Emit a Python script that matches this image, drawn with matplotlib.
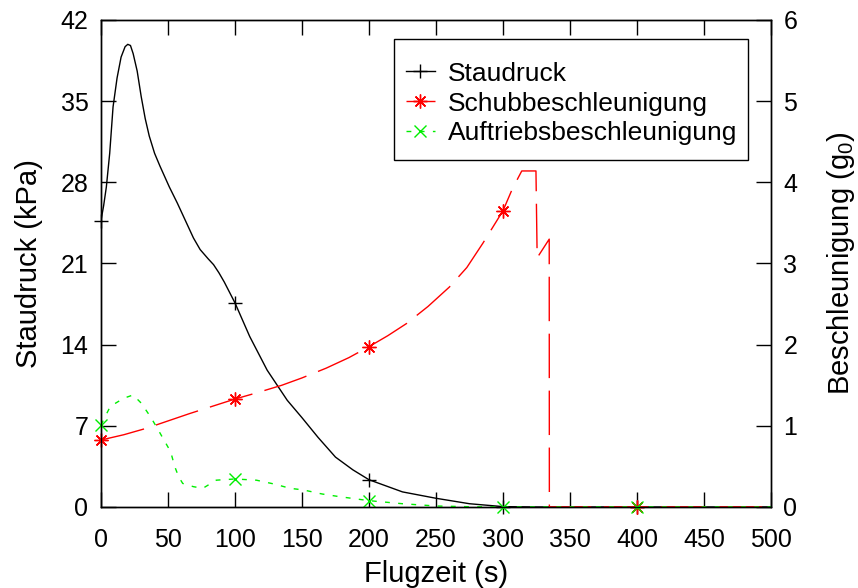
import numpy as np
import matplotlib
matplotlib.use("Agg")
import matplotlib.pyplot as plt
from matplotlib.lines import Line2D
from matplotlib.patches import Rectangle

plt.rcParams['font.family'] = ['Liberation Sans', 'DejaVu Sans']
plt.rcParams['font.size'] = 18
plt.rcParams['mathtext.fontset'] = 'custom'
plt.rcParams['mathtext.rm'] = 'Liberation Sans'

# Staudruck (kPa) over flight time (s)
t_q = [0, 2, 4, 6.5, 9, 12, 15, 18, 20, 22, 24, 27, 30, 33, 36, 40, 44, 51,
       57, 63, 69, 74, 80, 84, 88, 92, 100, 111, 124, 139, 150, 162, 175,
       188, 200, 225, 250, 275, 300, 325, 400, 500]
q = [24.7, 26.0, 27.6, 30.5, 34.5, 37.0, 38.8, 39.7, 39.9, 39.8, 39.1, 37.6,
     35.4, 33.5, 32.0, 30.5, 29.4, 27.6, 26.2, 24.7, 23.2, 22.2, 21.4, 20.9,
     20.2, 19.4, 17.6, 14.7, 11.8, 9.2, 7.7, 6.0, 4.3, 3.2, 2.35, 1.3, 0.75,
     0.28, 0.03, 0.0, 0.0, 0.0]

# Schubbeschleunigung (g0)
t_schub = [0, 17, 34, 50, 66, 83, 100, 117, 135, 150, 168, 185, 200, 214, 228,
           244, 260, 273, 285, 300, 307, 314, 324.6, 325.5, 334.5, 334.6, 400, 500]
schub = [0.825, 0.89, 0.97, 1.06, 1.15, 1.24, 1.33, 1.41, 1.50, 1.59, 1.71,
         1.84, 1.975, 2.11, 2.26, 2.47, 2.71, 2.95, 3.25, 3.65, 3.92, 4.14,
         4.14, 3.07, 3.30, 0.0, 0.0, 0.0]

# Auftriebsbeschleunigung (g0)
t_auf = [0, 3, 7, 17, 24, 30, 37, 42, 47, 52, 55, 58, 61, 69, 76, 86, 100,
         116, 130, 141, 151, 165, 178, 200, 225, 250, 275, 300, 400, 500]
auf = [1.01, 1.11, 1.24, 1.34, 1.38, 1.28, 1.11, 0.97, 0.825, 0.68, 0.50,
       0.37, 0.29, 0.25, 0.23, 0.33, 0.345, 0.33, 0.28, 0.23, 0.21, 0.16,
       0.127, 0.078, 0.04, 0.012, 0.003, 0.0, 0.0, 0.0]

mark_t = [0, 100, 200, 300, 400]

fig = plt.figure(figsize=(8.58, 5.88), dpi=100)
fig.subplots_adjust(left=0.1177, right=0.8986, top=0.966, bottom=0.1378)
ax = fig.add_subplot(111)
ax2 = ax.twinx()

def marks(t, y):
    idx = np.isin(t, mark_t)
    return np.asarray(t)[idx], np.asarray(y)[idx]

green = '#00ee00'
red_dash = (0, (32, 9))
green_dot = (0, (3.5, 6))

ax.plot(t_q, q, color='black', lw=1.0)
mx, my = marks(t_q, q)
ax.plot(mx, my, ls='none', marker='+', ms=10, mew=1.0, color='black', clip_on=False)

ax2.plot(t_schub, schub, color='red', lw=1.0, ls=red_dash)
mx, my = marks(t_schub, schub)
ax2.plot(mx, my, ls='none', marker=(8, 2, 0), ms=10, mew=1.0, color='red', clip_on=False)

ax2.plot(t_auf, auf, color=green, lw=1.0, ls=green_dot)
mx, my = marks(t_auf, auf)
ax2.plot(mx, my, ls='none', marker='x', ms=9, mew=1.0, color=green, clip_on=False)

ax.set_xlim(0, 500)
ax.set_ylim(0, 42)
ax2.set_ylim(0, 6)
ax.set_xticks(np.arange(0, 501, 50))
ax.set_yticks(np.arange(0, 43, 7))
ax2.set_yticks(np.arange(0, 7, 1))

ax.xaxis.set_ticks_position('both')
ax.tick_params(axis='x', direction='in', length=11, width=1, pad=15)
ax.tick_params(axis='y', direction='in', length=11, width=1, pad=9)
ax2.tick_params(axis='y', direction='in', length=11, width=1, pad=9)

ax.set_xlabel('Flugzeit (s)', fontsize=21, labelpad=6)
ax.set_ylabel('Staudruck (kPa)', fontsize=21, labelpad=13)
ax2.set_ylabel(r'Beschleunigung (g$_{\mathrm{0}}$)', fontsize=21, labelpad=20)

for a in (ax, ax2):
    for s in a.spines.values():
        s.set_linewidth(1.0)

# key box, drawn separately so the padding can differ from the entry layout
ax2.add_patch(Rectangle((0.4373, 0.7125), 0.5284, 0.2485, transform=ax2.transAxes,
                        facecolor='white', edgecolor='black', lw=1.0, zorder=4))

handles = [
    Line2D([], [], color='black', lw=1.0, marker='+', ms=10, mew=1.0),
    Line2D([], [], color='red', lw=1.0, ls=red_dash, marker=(8, 2, 0), ms=10, mew=1.0),
    Line2D([], [], color=green, lw=1.0, ls=green_dot, marker='x', ms=9, mew=1.0),
]
labels = ['Staudruck', 'Schubbeschleunigung', 'Auftriebsbeschleunigung']
leg = ax2.legend(handles, labels, loc='upper right', bbox_to_anchor=(0.979, 0.955),
                 borderaxespad=0, frameon=False,
                 handlelength=1.1, handletextpad=0.5, borderpad=0.75,
                 labelspacing=0.22, fontsize=19)
leg.set_zorder(5)

fig.savefig('out.png', dpi=100)
